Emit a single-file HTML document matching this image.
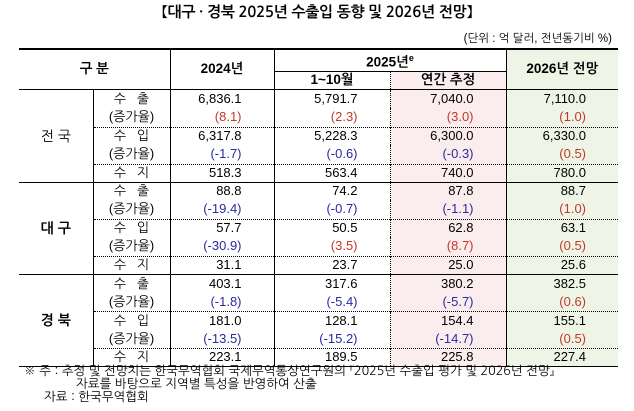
<!DOCTYPE html>
<html><head><meta charset="utf-8">
<style>
html,body{margin:0;padding:0;background:#fff;}
body{width:634px;height:411px;position:relative;overflow:hidden;font-family:"Liberation Sans","NanumGothic","Noto Sans CJK KR",sans-serif;color:#000;}
#title{position:absolute;left:0;width:634px;top:5px;text-align:center;font-size:15px;font-weight:bold;font-family:"NanumGothic","Noto Sans CJK KR",sans-serif;letter-spacing:-0.3px;}
#unit{position:absolute;right:22px;top:31px;font-size:11.5px;}
table{position:absolute;left:19px;top:48px;border-collapse:collapse;table-layout:fixed;width:599px;font-size:13px;}
td{padding:0;line-height:16px;white-space:nowrap;}
.h{font-weight:bold;text-align:center;font-size:13.5px;}
.num{text-align:right;padding-right:32px;}
.r{color:#c0392b;}
.b{color:#2a2aa0;}
.pink{background:#fbeded;}
.green{background:#eef5e6;}
.lab{text-align:center;border-left:1px solid #000;border-right:1px solid #000;}
.reg{text-align:center;font-weight:normal;font-size:14px;}
.dt td{border-top:1px dotted #000;}
.gt td{border-top:1px solid #000;}
.c4{border-right:1px dotted #000;}
.c5{border-right:1px solid #000;}
.c3{border-right:1px solid #000;}
#foot{position:absolute;left:24px;top:364px;font-size:12.5px;line-height:13px;font-family:"NanumGothic","Noto Sans CJK KR",sans-serif;}
</style></head><body>
<div id="title">【대구 · 경북 2025년 수출입 동향 및 2026년 전망】</div>
<div id="unit">(단위 : 억 달러, 전년동기비 %)</div>
<table>
<colgroup><col style="width:74px"><col style="width:77px"><col style="width:104px"><col style="width:116px"><col style="width:116px"><col style="width:112px"></colgroup>
<tr style="height:20px;border-top:2px solid #000">
<td class="h" colspan="2" rowspan="2" style="border-right:1px solid #000">구 분</td>
<td class="h" rowspan="2" style="border-right:1px solid #000">2024년</td>
<td class="h" colspan="2" style="border-right:1px solid #000;border-bottom:1px solid #000">2025년<sup style="font-size:9px">e</sup></td>
<td class="h green" rowspan="2">2026년 전망</td>
</tr>
<tr style="height:18px">
<td class="h c4">1~10월</td>
<td class="h pink c5">연간 추정</td>
</tr>
<!-- 전국 -->
<tr class="gt" style="height:19px"><td class="reg" rowspan="5">전 국</td><td class="lab">수 &nbsp; 출</td><td class="num c3">6,836.1</td><td class="num c4">5,791.7</td><td class="num pink c5">7,040.0</td><td class="num green">7,110.0</td></tr>
<tr style="height:19px"><td class="lab">(증가율)</td><td class="num c3 r">(8.1)</td><td class="num c4 r">(2.3)</td><td class="num pink c5 r">(3.0)</td><td class="num green r">(1.0)</td></tr>
<tr class="dt" style="height:18px"><td class="lab">수 &nbsp; 입</td><td class="num c3">6,317.8</td><td class="num c4">5,228.3</td><td class="num pink c5">6,300.0</td><td class="num green">6,330.0</td></tr>
<tr style="height:19px"><td class="lab">(증가율)</td><td class="num c3 b">(-1.7)</td><td class="num c4 b">(-0.6)</td><td class="num pink c5 b">(-0.3)</td><td class="num green r">(0.5)</td></tr>
<tr class="dt" style="height:18px"><td class="lab">수 &nbsp; 지</td><td class="num c3">518.3</td><td class="num c4">563.4</td><td class="num pink c5">740.0</td><td class="num green">780.0</td></tr>
<!-- 대구 -->
<tr class="gt" style="height:18px"><td class="reg" rowspan="5" style="font-weight:bold">대 구</td><td class="lab">수 &nbsp; 출</td><td class="num c3">88.8</td><td class="num c4">74.2</td><td class="num pink c5">87.8</td><td class="num green">88.7</td></tr>
<tr style="height:19px"><td class="lab">(증가율)</td><td class="num c3 b">(-19.4)</td><td class="num c4 b">(-0.7)</td><td class="num pink c5 b">(-1.1)</td><td class="num green r">(1.0)</td></tr>
<tr class="dt" style="height:18px"><td class="lab">수 &nbsp; 입</td><td class="num c3">57.7</td><td class="num c4">50.5</td><td class="num pink c5">62.8</td><td class="num green">63.1</td></tr>
<tr style="height:19px"><td class="lab">(증가율)</td><td class="num c3 b">(-30.9)</td><td class="num c4 r">(3.5)</td><td class="num pink c5 r">(8.7)</td><td class="num green r">(0.5)</td></tr>
<tr class="dt" style="height:18px"><td class="lab">수 &nbsp; 지</td><td class="num c3">31.1</td><td class="num c4">23.7</td><td class="num pink c5">25.0</td><td class="num green">25.6</td></tr>
<!-- 경북 -->
<tr class="gt" style="height:19px"><td class="reg" rowspan="5" style="font-weight:bold">경 북</td><td class="lab">수 &nbsp; 출</td><td class="num c3">403.1</td><td class="num c4">317.6</td><td class="num pink c5">380.2</td><td class="num green">382.5</td></tr>
<tr style="height:18px"><td class="lab">(증가율)</td><td class="num c3 b">(-1.8)</td><td class="num c4 b">(-5.4)</td><td class="num pink c5 b">(-5.7)</td><td class="num green r">(0.6)</td></tr>
<tr class="dt" style="height:19px"><td class="lab">수 &nbsp; 입</td><td class="num c3">181.0</td><td class="num c4">128.1</td><td class="num pink c5">154.4</td><td class="num green">155.1</td></tr>
<tr style="height:18px"><td class="lab">(증가율)</td><td class="num c3 b">(-13.5)</td><td class="num c4 b">(-15.2)</td><td class="num pink c5 b">(-14.7)</td><td class="num green r">(0.5)</td></tr>
<tr class="dt" style="height:18px;border-bottom:1px solid #000"><td class="lab">수 &nbsp; 지</td><td class="num c3">223.1</td><td class="num c4">189.5</td><td class="num pink c5">225.8</td><td class="num green">227.4</td></tr>
</table>
<div id="foot">
<div>※ 주 : 추정 및 전망치는 한국무역협회 국제무역통상연구원의 『2025년 수출입 평가 및 2026년 전망』</div>
<div style="padding-left:52px">자료를 바탕으로 지역별 특성을 반영하여 산출</div>
<div style="padding-left:20px">자료 : 한국무역협회</div>
</div>
</body></html>
